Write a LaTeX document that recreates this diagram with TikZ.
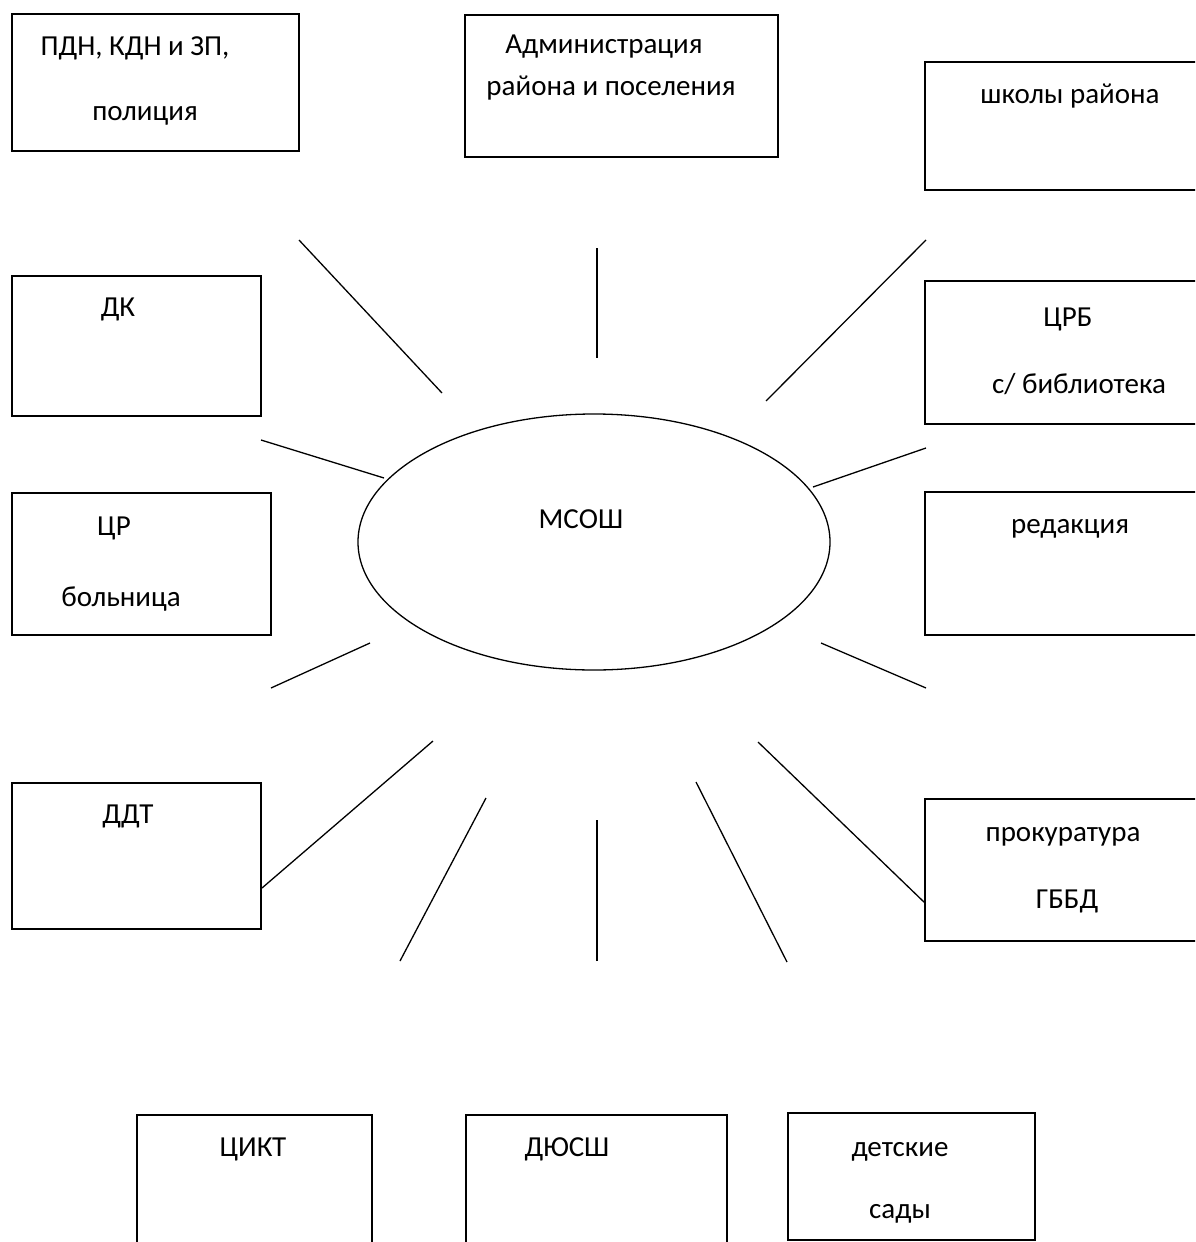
\documentclass[tikz,border=0pt]{standalone}
\usepackage{fontspec}
\setmainfont{Carlito}
\usetikzlibrary{shapes.geometric}
\begin{document}
\begin{tikzpicture}[x=1pt,y=-1pt,
  box/.style={draw=black,line width=1.6pt,rectangle,inner sep=0pt},
  oval/.style={draw=black,line width=1.3pt,ellipse,inner sep=0pt,minimum width=472pt,minimum height=256pt},
  lbl/.style={inner sep=0pt,anchor=center,text height=0.64em,text depth=0.12em,font=\fontsize{29}{35}\selectfont},
  spoke/.style={draw=black,line width=1.3pt}]
\clip (0,0) rectangle (1195,1242);
\fill[white] (0,0) rectangle (1195,1242);
% boxes
\node[box,minimum width=287pt,minimum height=137pt] (pdn) at (155.5,82.5) {};
\node[box,minimum width=313pt,minimum height=142pt] (adm) at (621.5,86) {};
\node[box,minimum width=335pt,minimum height=128pt] (shk) at (1092.5,126) {};
\node[box,minimum width=335pt,minimum height=143pt] (crb) at (1092.5,352.5) {};
\node[box,minimum width=335pt,minimum height=143pt] (red) at (1092.5,563.5) {};
\node[box,minimum width=335pt,minimum height=142pt] (pro) at (1092.5,870) {};
\node[box,minimum width=249pt,minimum height=140pt] (dk) at (136.5,346) {};
\node[box,minimum width=259pt,minimum height=142pt] (crh) at (141.5,564) {};
\node[box,minimum width=249pt,minimum height=146pt] (ddt) at (136.5,856) {};
\node[box,minimum width=235pt,minimum height=185pt] (cikt) at (254.5,1207.5) {};
\node[box,minimum width=261pt,minimum height=185pt] (dyu) at (596.5,1207.5) {};
\node[box,minimum width=247pt,minimum height=127pt] (ds) at (911.5,1176.5) {};
% ellipse
\node[oval] (msosh) at (594,542) {};
% labels
\node[lbl] (t1) at (135,53) {ПДН, КДН и ЗП,};
\node[lbl] (t2) at (145,118) {полиция};
\node[lbl] (t3) at (604,51) {Администрация};
\node[lbl] (t4) at (611,93) {района и поселения};
\node[lbl] (t5) at (1070,101) {школы района};
\node[lbl] (t6) at (1068,324) {ЦРБ};
\node[lbl] (t7) at (1079,391) {с/ библиотека};
\node[lbl] (t8) at (1070,531) {редакция};
\node[lbl] (t9) at (1063,839) {прокуратура};
\node[lbl] (t10) at (1067,906) {ГББД};
\node[lbl] (t11) at (118,314) {ДК};
\node[lbl] (t12) at (114,533) {ЦР};
\node[lbl] (t13) at (121,604) {больница};
\node[lbl] (t14) at (128,821) {ДДТ};
\node[lbl] (t15) at (253,1154) {ЦИКТ};
\node[lbl] (t16) at (567,1154) {ДЮСШ};
\node[lbl] (t17) at (900,1154) {детские};
\node[lbl] (t18) at (900,1216) {сады};
\node[lbl] (t19) at (581,526) {МСОШ};
% spoke end points
\coordinate (a1) at (299,240);  \coordinate (b1) at (442,393);
\coordinate (a2) at (597,248);  \coordinate (b2) at (597,358);
\coordinate (a3) at (926,240);  \coordinate (b3) at (766,401);
\coordinate (a4) at (261,440);  \coordinate (b4) at (384,478);
\coordinate (a5) at (926,448);  \coordinate (b5) at (813,487);
\coordinate (a6) at (271,688);  \coordinate (b6) at (370,643);
\coordinate (a7) at (926,688);  \coordinate (b7) at (821,643);
\coordinate (a8) at (262,888);  \coordinate (b8) at (433,741);
\coordinate (a9) at (925,903);  \coordinate (b9) at (758,742);
\coordinate (a10) at (400,961); \coordinate (b10) at (486,798);
\coordinate (a11) at (597,961); \coordinate (b11) at (597,820);
\coordinate (a12) at (787,962); \coordinate (b12) at (696,782);
\foreach \i in {1,...,12} {\draw[spoke] (a\i) -- (b\i);}
\end{tikzpicture}
\end{document}
